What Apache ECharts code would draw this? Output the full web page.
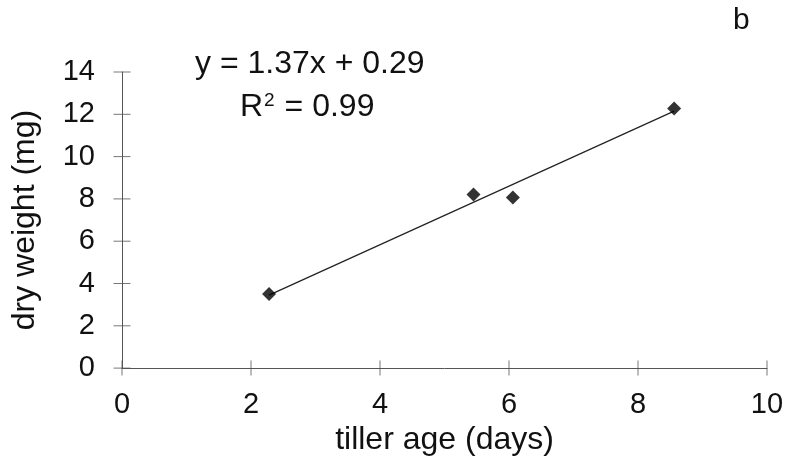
<!DOCTYPE html>
<html>
<head>
<meta charset="utf-8">
<script src="https://cdn.jsdelivr.net/npm/echarts@6/dist/echarts.min.js"></script>
<style>
  html, body { margin: 0; padding: 0; background: #fff; }
  #chart { width: 789px; height: 461px; }
</style>
</head>
<body>
<div id="chart"></div>
<script>
// measured points (tiller age in days, dry weight in mg)
const tillerAge = [2.28, 5.45, 6.06, 8.56];
const dryWeight = [3.5, 8.21, 8.07, 12.27];
// fitted line end points as drawn
const fitX = [2.28, 8.56];
const fitY = [3.45, 12.15];
const xTickValues = [0, 2, 4, 6, 8, 10];
const yTickValues = [0, 2, 4, 6, 8, 10, 12, 14];
const equationText = "y = 1.37x + 0.29";
const r2Text = "0.99";

const font = "Liberation Sans, Arial, sans-serif";
const axisColor = "#555";

const chart = echarts.init(document.getElementById("chart"));
chart.setOption({
  animation: false,
  backgroundColor: "#fff",
  textStyle: { fontFamily: font },
  grid: { left: 122, right: 22, top: 72, bottom: 89, containLabel: false },
  graphic: [
    {
      type: "text", left: 195, top: 48,
      style: { text: equationText, font: "32px " + font, fill: "#111" }
    },
    {
      type: "text", left: 240, top: 91,
      style: {
        text: "R{s|2} = " + r2Text,
        font: "32px " + font, fill: "#111",
        rich: { s: { fontSize: 19, verticalAlign: "top", padding: [0, 1, 14, 1], fontFamily: font, fill: "#111" } }
      }
    },
    {
      type: "text", left: 733, top: 6,
      style: { text: "b", font: "30px " + font, fill: "#111" }
    }
  ],
  xAxis: {
    type: "value",
    min: 0, max: 10, interval: 2,
    name: "tiller age (days)",
    nameLocation: "middle",
    nameGap: 50,
    nameTextStyle: { fontSize: 32, color: "#111", fontFamily: font },
    axisLine: { show: true, onZero: false, lineStyle: { color: axisColor, width: 1 } },
    axisTick: { show: false },
    splitLine: { show: false },
    axisLabel: { fontSize: 29, color: "#111", margin: 22, fontFamily: font }
  },
  yAxis: {
    type: "value",
    min: 0, max: 14, interval: 2,
    name: "dry weight (mg)",
    nameLocation: "middle",
    nameGap: 81,
    nameTextStyle: { fontSize: 32, color: "#111", fontFamily: font },
    axisLine: { show: true, onZero: false, lineStyle: { color: axisColor, width: 1 } },
    axisTick: { show: false },
    splitLine: { show: false },
    axisLabel: { fontSize: 29, color: "#111", margin: 27, padding: [0, 0, 16, 0], fontFamily: font }
  },
  series: [
    {
      // tick marks crossing the x axis
      type: "scatter",
      silent: true,
      symbol: "rect",
      symbolSize: [1, 15],
      itemStyle: { color: axisColor },
      data: xTickValues.map(v => [v, 0]),
      z: 1
    },
    {
      // tick marks crossing the y axis
      type: "scatter",
      silent: true,
      symbol: "rect",
      symbolSize: [17, 1],
      itemStyle: { color: axisColor },
      data: yTickValues.map(v => [0, v]),
      z: 1
    },
    {
      name: "fit",
      type: "line",
      showSymbol: false,
      lineStyle: { color: "#222", width: 1.2 },
      data: fitX.map((x, i) => [x, fitY[i]]),
      z: 2
    },
    {
      name: "dry weight",
      type: "scatter",
      symbol: "diamond",
      symbolSize: 14,
      itemStyle: { color: "#000" },
      data: tillerAge.map((x, i) => [x, dryWeight[i]]),
      z: 3
    }
  ]
});
</script>
</body>
</html>
